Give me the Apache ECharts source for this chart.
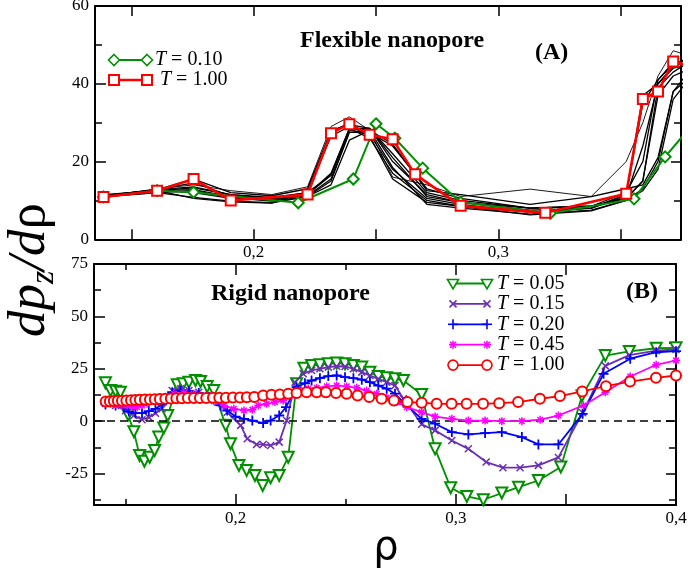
<!DOCTYPE html>
<html><head><meta charset="utf-8">
<script src="https://cdn.jsdelivr.net/npm/echarts@6/dist/echarts.min.js"></script>
<style>html,body{margin:0;padding:0;background:#fff}#c{width:691px;height:573px}</style>
</head><body><div id="c"></div>
<script>
// ---------------- Panel A (flexible nanopore) ----------------
const RHO_A_RED = [0.1386,0.1605,0.1754,0.1906,0.2220,0.2316,0.2391,0.2474,0.2568,0.2660,0.2846,0.3192,0.3523,0.3591,0.3653,0.3715,0.3790];
const VAL_A_RED = [10.9,12.5,15.5,10.0,11.5,27.3,29.6,26.9,25.7,16.7,8.6,6.8,11.7,36.1,38.0,45.7,44.5];
const RHO_A_GREEN = [0.1386,0.1605,0.1754,0.2182,0.2407,0.2500,0.2577,0.2691,0.2846,0.3213,0.3555,0.3682,0.3800];
const VAL_A_GREEN = [10.9,12.5,12.1,9.4,15.5,29.7,26.0,18.3,9.5,6.7,10.4,21.2,30.0];
const RHO_A_BLACK = [0.1386,0.1605,0.1754,0.1906,0.2074,0.2220,0.2316,0.2391,0.2474,0.2568,0.2708,0.2846,0.3130,0.3380,0.3523,0.3591,0.3653,0.3715,0.3790];
const BLACK_1  = [11.2,12.8,13.5,11.5,10.8,12.0,26.5,29.0,27.0,18.0,10.5,9.0,7.0,8.0,11.0,24.0,40.0,44.0,45.0];
const BLACK_2  = [11.0,12.5,12.8,11.0,10.3,11.5,16.5,28.0,28.5,22.0,12.0,10.0,8.0,8.5,10.5,15.0,37.0,42.0,44.0];
const BLACK_3  = [11.0,12.0,10.8,9.8,9.4,11.0,15.0,27.5,28.0,18.5,9.0,8.0,6.5,7.5,10.0,13.0,20.0,38.0,44.0];
const BLACK_4  = [11.5,12.5,10.5,9.6,9.3,12.2,27.5,30.0,26.5,15.5,9.5,8.5,6.3,7.3,10.0,12.5,18.0,36.0,42.0];
const BLACK_5  = [11.0,13.0,14.0,12.5,11.5,13.5,29.0,31.5,28.0,16.0,14.0,11.0,12.9,11.0,20.0,30.0,42.0,48.5,47.0];
const BLACK_6  = [11.0,12.5,12.0,10.5,10.0,11.5,17.0,28.5,28.5,21.0,11.0,9.5,7.5,8.0,11.5,37.0,40.0,44.5,46.0];
const BLACK_7  = [11.0,12.8,14.5,11.2,10.5,11.2,15.5,27.5,27.5,24.0,13.0,10.5,8.0,8.5,12.0,20.0,41.0,45.5,46.0];
const BLACK_8  = [11.0,12.0,12.5,10.8,9.8,11.0,14.0,25.5,28.0,24.5,12.5,11.5,9.0,11.0,13.0,14.0,21.0,38.0,42.0];
const BLACK_9  = [11.0,12.5,13.2,11.5,10.5,12.0,16.5,28.5,26.0,17.0,10.0,8.5,7.0,8.0,11.5,35.0,41.0,45.0,47.0];
const BLACK_10 = [11.2,12.8,15.5,12.0,11.2,13.0,28.0,29.5,28.5,20.0,11.5,9.5,8.0,8.5,10.5,15.0,39.0,43.0,46.0];
const BLACK_LINES = [BLACK_1,BLACK_2,BLACK_3,BLACK_4,BLACK_5,BLACK_6,BLACK_7,BLACK_8,BLACK_9,BLACK_10];

// ---------------- Panel B (rigid nanopore) ----------------
const RHO_B_005 = [0.1409,0.1432,0.1455,0.1477,0.1512,0.1538,0.1564,0.1586,0.1610,0.1632,0.1651,0.1674,0.1692,0.1735,0.1762,0.1788,0.1818,0.1841,0.1871,0.1901,0.1955,0.1977,0.2015,0.2050,0.2088,0.2123,0.2159,0.2198,0.2239,0.2277,0.2310,0.2345,0.2383,0.2421,0.2459,0.2497,0.2535,0.2573,0.2610,0.2648,0.2686,0.2724,0.2762,0.2845,0.2906,0.2977,0.3050,0.3125,0.3209,0.3285,0.3375,0.3477,0.3573,0.3679,0.3788,0.3910,0.4000];
const VAL_B_005 = [18.3,14.6,14.3,13.8,3.0,-5.0,-16.4,-19.1,-17.2,-14.0,-7.6,-3.2,2.7,17.4,17.8,18.6,19.4,18.9,16.5,14.6,-2.0,-10.8,-21.1,-23.5,-25.9,-30.7,-27.0,-25.9,-17.2,17.8,25.3,26.6,26.9,27.4,27.7,27.4,26.6,25.8,23.4,21.3,20.7,20.2,19.4,12.7,-13.2,-31.8,-35.9,-37.5,-34.3,-31.5,-28.3,-21.9,12.0,31.3,33.3,34.8,35.0];
const RHO_B_015 = [0.1409,0.1455,0.1500,0.1538,0.1575,0.1606,0.1636,0.1666,0.1712,0.1750,0.1788,0.1833,0.1879,0.1920,0.1962,0.2023,0.2053,0.2095,0.2125,0.2159,0.2198,0.2232,0.2270,0.2307,0.2345,0.2383,0.2421,0.2459,0.2497,0.2535,0.2573,0.2610,0.2648,0.2686,0.2724,0.2762,0.2845,0.2906,0.2982,0.3057,0.3138,0.3214,0.3292,0.3375,0.3466,0.3576,0.3679,0.3788,0.3910,0.4000];
const VAL_B_015 = [8.5,7.5,5.0,2.7,0.7,1.8,3.8,5.9,14.6,15.5,14.6,13.8,12.3,9.0,4.3,-2.0,-8.4,-11.1,-11.1,-11.6,-10.0,0.3,18.6,22.6,24.2,25.0,25.8,26.2,26.1,25.0,23.4,21.8,20.2,18.6,17.0,10.7,-1.5,-4.4,-9.2,-13.2,-19.5,-22.2,-22.2,-21.1,-17.3,4.0,26.4,31.5,33.7,34.2];
const RHO_B_020 = [0.1409,0.1455,0.1492,0.1515,0.1545,0.1575,0.1606,0.1636,0.1666,0.1712,0.1750,0.1788,0.1833,0.1879,0.1932,0.1962,0.2000,0.2038,0.2076,0.2125,0.2159,0.2198,0.2229,0.2277,0.2315,0.2345,0.2383,0.2421,0.2459,0.2497,0.2535,0.2573,0.2610,0.2648,0.2686,0.2724,0.2762,0.2845,0.2906,0.2982,0.3057,0.3133,0.3209,0.3300,0.3375,0.3466,0.3576,0.3671,0.3792,0.3910,0.4000];
const VAL_B_020 = [8.0,7.5,6.7,4.6,3.8,3.8,4.8,5.9,8.0,13.8,14.6,14.3,13.4,11.5,7.5,5.1,2.2,1.1,0.3,-0.9,0.3,2.7,6.7,16.2,18.1,19.4,20.5,21.5,21.8,21.0,20.5,19.8,18.6,17.0,15.5,13.1,9.0,1.1,-1.2,-5.2,-6.3,-5.7,-5.2,-7.6,-11.1,-11.1,3.5,22.6,29.8,32.9,33.4];
const RHO_B_045 = [0.1409,0.1432,0.1455,0.1480,0.1507,0.1530,0.1553,0.1575,0.1598,0.1636,0.1674,0.1720,0.1765,0.1810,0.1856,0.1901,0.1947,0.1992,0.2038,0.2076,0.2103,0.2141,0.2179,0.2216,0.2255,0.2292,0.2330,0.2368,0.2414,0.2459,0.2505,0.2550,0.2595,0.2641,0.2686,0.2732,0.2777,0.2845,0.2906,0.2982,0.3057,0.3133,0.3209,0.3300,0.3383,0.3466,0.3580,0.3679,0.3792,0.3910,0.4000];
const VAL_B_045 = [9.1,8.3,7.9,7.7,7.5,7.0,6.7,7.5,8.3,9.9,11.5,13.1,13.5,13.1,11.5,9.5,7.5,5.9,5.1,5.5,7.5,8.3,9.1,9.9,12.3,14.6,15.5,15.9,16.6,17.0,16.6,15.9,14.6,13.1,11.2,9.1,6.7,4.3,2.2,1.1,0.3,0.3,0.0,0.0,0.7,2.7,7.5,13.8,21.3,26.9,29.0];
const RHO_B_100 = [0.1410,0.1429,0.1447,0.1465,0.1484,0.1504,0.1525,0.1545,0.1565,0.1588,0.1611,0.1633,0.1656,0.1681,0.1706,0.1731,0.1756,0.1783,0.1811,0.1838,0.1867,0.1897,0.1926,0.1956,0.1988,0.2020,0.2051,0.2085,0.2125,0.2163,0.2201,0.2239,0.2277,0.2322,0.2368,0.2410,0.2456,0.2504,0.2554,0.2607,0.2663,0.2719,0.2780,0.2845,0.2913,0.2981,0.3049,0.3124,0.3197,0.3283,0.3382,0.3473,0.3574,0.3682,0.3791,0.3909,0.4000];
const VAL_B_100 = [9.4,9.5,9.6,9.7,9.8,9.9,10.0,10.1,10.2,10.3,10.4,10.5,10.6,10.7,10.8,10.9,10.9,11.0,11.0,11.1,11.1,11.2,11.2,11.2,11.3,11.3,11.4,11.5,12.3,12.6,12.7,13.1,13.4,13.8,13.8,13.8,13.5,13.1,12.3,11.5,10.7,9.9,9.1,8.8,8.3,8.3,8.3,8.3,8.6,9.1,10.7,12.0,14.2,16.7,18.9,20.7,21.8];

// ---------------- Axes ticks / labels ----------------
const XA_MAJOR = [0.15,0.2,0.25,0.3,0.35];
const XA_LABELS = [0.2,0.3];
const YA_MAJOR = [0,20,40,60];
const YA_MINOR = [10,30,50];
const XB_MAJOR = [0.2,0.3,0.35,0.4];
const XB_MINOR = [0.15,0.25];
const XB_LABELS = [0.2,0.3,0.4];
const YB_MAJOR = [-25,0,25,50,75];
const YB_MINOR = [-37.5,-12.5,12.5,37.5,62.5];

const SERIF = 'Liberation Serif';
const GREEN = '#009000', PURPLE = '#6b2fb3', BLUE = '#0000ff', MAGENTA = '#ff00ff', RED = '#ff0000';

const zip = (xs, ys) => xs.map((x, i) => [x, ys[i]]);
const fmt = v => String(v).replace('.', ',');

function xAx(grid, pos, min, max, ticks, len, line, labels) {
  return { type: 'value', gridIndex: grid, position: pos, min: min, max: max,
    axisLine: { show: line, onZero: false, lineStyle: { color: '#000', width: 2 } },
    axisTick: { show: true, inside: true, length: len, customValues: ticks, lineStyle: { color: '#000', width: 1.5 } },
    axisLabel: labels ? { show: true, customValues: labels, formatter: fmt, fontFamily: SERIF, fontSize: 17, color: '#000', margin: 5 } : { show: false },
    splitLine: { show: false } };
}
function yAx(grid, pos, min, max, ticks, len, line, labels) {
  return { type: 'value', gridIndex: grid, position: pos, min: min, max: max,
    axisLine: { show: line, onZero: false, lineStyle: { color: '#000', width: 2 } },
    axisTick: { show: true, inside: true, length: len, customValues: ticks, lineStyle: { color: '#000', width: 1.5 } },
    axisLabel: labels ? { show: true, customValues: labels, fontFamily: SERIF, fontSize: 17, color: '#000', margin: 6 } : { show: false },
    splitLine: { show: false } };
}

const XA_MIN = 0.1351, XA_MAX = 0.3747, XB_MIN = 0.1357, XB_MAX = 0.4;
const xAxis = [
  xAx(0, 'bottom', XA_MIN, XA_MAX, XA_MAJOR, 10, true, XA_LABELS),
  xAx(0, 'top', XA_MIN, XA_MAX, XA_MAJOR, 10, true, null),
  xAx(1, 'bottom', XB_MIN, XB_MAX, XB_MAJOR, 11, true, XB_LABELS),
  xAx(1, 'top', XB_MIN, XB_MAX, XB_MAJOR, 11, true, null),
  xAx(1, 'bottom', XB_MIN, XB_MAX, XB_MINOR, 6, false, null),
  xAx(1, 'top', XB_MIN, XB_MAX, XB_MINOR, 6, false, null)
];
const yAxis = [
  yAx(0, 'left', 0, 60, YA_MAJOR, 11, true, YA_MAJOR),
  yAx(0, 'right', 0, 60, YA_MAJOR, 10, true, null),
  yAx(0, 'left', 0, 60, YA_MINOR, 7, false, null),
  yAx(0, 'right', 0, 60, YA_MINOR, 7, false, null),
  yAx(1, 'left', -40, 75, YB_MAJOR, 11, true, YB_MAJOR),
  yAx(1, 'right', -40, 75, YB_MAJOR, 10, true, null),
  yAx(1, 'left', -40, 75, YB_MINOR, 7, false, null),
  yAx(1, 'right', -40, 75, YB_MINOR, 7, false, null)
];

const P_X = 'path://M0 0L10 10M10 0L0 10';
const P_PLUS = 'path://M5 0L5 10M0 5L10 5';
const P_STAR = 'path://M5 0L5 10M0 5L10 5M1.5 1.5L8.5 8.5M8.5 1.5L1.5 8.5';

const series = [];
BLACK_LINES.forEach((arr, i) => series.push({
  type: 'line', xAxisIndex: 0, yAxisIndex: 0, data: zip(RHO_A_BLACK, arr), symbol: 'none',
  lineStyle: { color: '#000', width: i === 4 ? 0.9 : 1.3 }, z: 2, silent: true
}));
series.push({ name: 'T = 0.10', type: 'line', xAxisIndex: 0, yAxisIndex: 0, data: zip(RHO_A_GREEN, VAL_A_GREEN),
  symbol: 'emptyDiamond', symbolSize: 11, lineStyle: { color: GREEN, width: 2 },
  itemStyle: { color: GREEN, borderColor: GREEN, borderWidth: 1.6 }, z: 3 });
series.push({ name: 'T = 1.00', type: 'line', xAxisIndex: 0, yAxisIndex: 0, data: zip(RHO_A_RED, VAL_A_RED),
  symbol: 'emptyRect', symbolSize: 10, lineStyle: { color: RED, width: 2.6 },
  itemStyle: { color: RED, borderColor: RED, borderWidth: 2 }, z: 4 });

series.push({ name: 'T = 0.05', type: 'line', xAxisIndex: 2, yAxisIndex: 4, data: zip(RHO_B_005, VAL_B_005),
  symbol: 'emptyTriangle', symbolRotate: 180, symbolSize: 11, lineStyle: { color: GREEN, width: 1.8 },
  itemStyle: { color: GREEN, borderColor: GREEN, borderWidth: 1.5 }, z: 3,
  markLine: { silent: true, symbol: ['none', 'none'], label: { show: false },
    lineStyle: { color: '#000', type: [8, 5], width: 1.5 }, data: [{ yAxis: 0 }] } });
series.push({ name: 'T = 0.15', type: 'line', xAxisIndex: 2, yAxisIndex: 4, data: zip(RHO_B_015, VAL_B_015),
  symbol: P_X, symbolSize: 7, lineStyle: { color: PURPLE, width: 1.8 },
  itemStyle: { color: PURPLE, borderColor: PURPLE, borderWidth: 1.5 }, z: 4 });
series.push({ name: 'T = 0.20', type: 'line', xAxisIndex: 2, yAxisIndex: 4, data: zip(RHO_B_020, VAL_B_020),
  symbol: P_PLUS, symbolSize: 10, lineStyle: { color: BLUE, width: 1.8 },
  itemStyle: { color: BLUE, borderColor: BLUE, borderWidth: 1.8 }, z: 5 });
series.push({ name: 'T = 0.45', type: 'line', xAxisIndex: 2, yAxisIndex: 4, data: zip(RHO_B_045, VAL_B_045),
  symbol: P_STAR, symbolSize: 8, lineStyle: { color: MAGENTA, width: 1.8 },
  itemStyle: { color: MAGENTA, borderColor: MAGENTA, borderWidth: 1.5 }, z: 6 });
series.push({ name: 'T = 1.00 (B)', type: 'line', xAxisIndex: 2, yAxisIndex: 4, data: zip(RHO_B_100, VAL_B_100),
  symbol: 'emptyCircle', symbolSize: 10, lineStyle: { color: RED, width: 1.8 },
  itemStyle: { color: RED, borderColor: RED, borderWidth: 1.5 }, z: 7 });

// ---------------- legend samples & texts ----------------
function symbolShapes(kind, x, y, c) {
  const st = { stroke: c, fill: '#fff', lineWidth: 1.6 };
  const ln = (x1, y1, x2, y2) => ({ type: 'line', shape: { x1, y1, x2, y2 }, style: { stroke: c, lineWidth: 1.6 } });
  switch (kind) {
    case 'diamond': return [{ type: 'polygon', shape: { points: [[x, y - 5.5], [x + 5.5, y], [x, y + 5.5], [x - 5.5, y]] }, style: st }];
    case 'square': return [{ type: 'rect', shape: { x: x - 5, y: y - 5, width: 10, height: 10 }, style: Object.assign({}, st, { lineWidth: 2 }) }];
    case 'tri': return [{ type: 'polygon', shape: { points: [[x - 5.5, y - 4], [x + 5.5, y - 4], [x, y + 5.5]] }, style: st }];
    case 'x': return [ln(x - 3.5, y - 3.5, x + 3.5, y + 3.5), ln(x + 3.5, y - 3.5, x - 3.5, y + 3.5)];
    case 'plus': return [ln(x - 5, y, x + 5, y), ln(x, y - 5, x, y + 5)];
    case 'star': return [ln(x - 4, y, x + 4, y), ln(x, y - 4, x, y + 4), ln(x - 3, y - 3, x + 3, y + 3), ln(x + 3, y - 3, x - 3, y + 3)];
    case 'circle': return [{ type: 'circle', shape: { cx: x, cy: y, r: 5 }, style: st }];
  }
  return [];
}
const RICH = { i: { fontStyle: 'italic', fontFamily: SERIF, fontSize: 20, fill: '#000' }, n: { fontFamily: SERIF, fontSize: 20, fill: '#000' } };
function legendRow(y, x0, x1, tx, c, kind, lw, label) {
  const els = [{ type: 'line', shape: { x1: x0, y1: y, x2: x1, y2: y }, style: { stroke: c, lineWidth: lw } }];
  return els.concat(symbolShapes(kind, x0, y, c), symbolShapes(kind, x1, y, c), [{
    type: 'text', x: tx, y: y, style: { text: '{i|T}{n| = ' + label + '}', rich: RICH, align: 'left', verticalAlign: 'middle' }
  }]);
}
const LEG_A = [['0.10', GREEN, 'diamond', 2], ['1.00', RED, 'square', 2.6]];
const LEG_B = [['0.05', GREEN, 'tri', 1.8], ['0.15', PURPLE, 'x', 1.8], ['0.20', BLUE, 'plus', 1.8], ['0.45', MAGENTA, 'star', 1.8], ['1.00', RED, 'circle', 1.8]];
let graphics = [];
LEG_A.forEach((r, i) => { graphics = graphics.concat(legendRow(60 + i * 20, 114, 147, i === 0 ? 155 : 160, r[1], r[2], r[3], r[0])); });
LEG_B.forEach((r, i) => { graphics = graphics.concat(legendRow(283.5 + i * 20.4, 453, 487, 497, r[1], r[2], r[3], r[0])); });
const boldTxt = (x, y, t, align) => ({ type: 'text', x: x, y: y, style: { text: t, font: 'bold 24px "Liberation Serif"', fill: '#000', align: align || 'left', verticalAlign: 'middle' } });
graphics.push(boldTxt(300, 41, 'Flexible nanopore'));
graphics.push(boldTxt(535, 53, '(A)'));
graphics.push(boldTxt(211, 294, 'Rigid nanopore'));
graphics.push(boldTxt(626, 292, '(B)'));
graphics.push({ type: 'text', x: 386, y: 549, style: { text: 'ρ', font: '40px "DejaVu Sans"', fill: '#000', align: 'center', verticalAlign: 'middle' } });
graphics.push({ type: 'text', x: 30, y: 270, rotation: Math.PI / 2, style: {
  text: '{i|dp}{s|z}{i|/d}{r|ρ}', align: 'center', verticalAlign: 'middle',
  rich: {
    i: { fontStyle: 'italic', fontFamily: SERIF, fontSize: 53, fill: '#000' },
    r: { fontFamily: SERIF, fontSize: 53, fill: '#000' },
    s: { fontStyle: 'italic', fontFamily: SERIF, fontSize: 34, fill: '#000', padding: [28, 0, 0, 0] }
  } } });

const chart = echarts.init(document.getElementById('c'), null, { renderer: 'canvas' });
chart.setOption({
  animation: false,
  backgroundColor: '#fff',
  grid: [
    { left: 95, top: 6, width: 586, height: 233.3, containLabel: false, outerBoundsMode: 'none' },
    { left: 94, top: 264, width: 582, height: 241, containLabel: false, outerBoundsMode: 'none' }
  ],
  xAxis: xAxis,
  yAxis: yAxis,
  series: series,
  graphic: graphics
});
</script></body></html>
